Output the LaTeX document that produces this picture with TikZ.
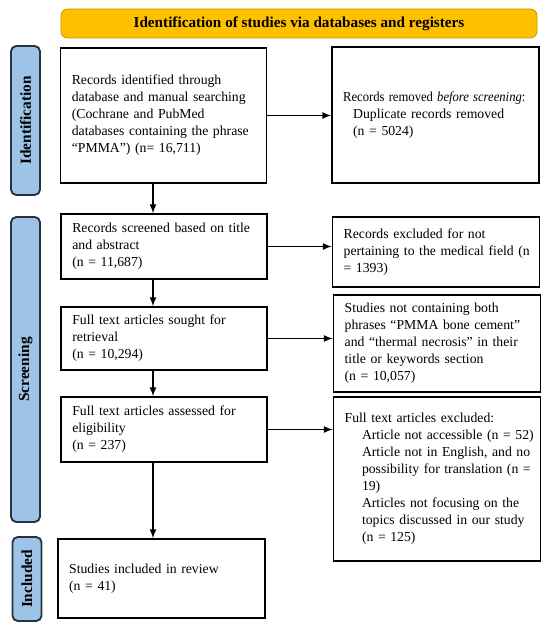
\documentclass[tikz,border=0pt]{standalone}
\usepackage{fontspec}
\setmainfont{Liberation Serif}
\usepackage{graphicx}
\usepackage{tikz}
\usetikzlibrary{positioning}
\definecolor{prgold}{RGB}{255, 192, 0}
\definecolor{prgoldline}{RGB}{196, 148, 0}
\definecolor{prblue}{RGB}{157, 195, 230}
\definecolor{prslate}{RGB}{40, 50, 62}

\begin{document}
\begin{tikzpicture}[x=0.75pt, y=-0.75pt, >=latex,
  every node/.style={font=\fontsize{10.3}{12.75}\selectfont},
  leftbox/.style={draw, line width=1.1pt, text width=137.5pt, inner xsep=8.5pt, align=left,
    execute at begin node={\rightskip=-30pt plus 1fil}},
  rightbox/.style={draw, line width=1.1pt, text width=138.5pt, inner xsep=8.4pt, align=left,
    execute at begin node={\rightskip=-30pt plus 1fil}},
  phase/.style={draw=prslate, line width=1.4pt, fill=prblue, rounded corners=4pt, rotate=90,
    minimum height=21.75pt, font=\fontsize{11.5}{14}\selectfont\bfseries},
  flow/.style={->, line width=1.3pt}]
\useasboundingbox (0,0) rectangle (550,630);

% Header
\node[draw=prgoldline, line width=0.6pt, fill=prgold, rounded corners=5pt, minimum width=357pt,
  minimum height=21.75pt, font=\fontsize{11.4}{13}\selectfont\bfseries] (header) at (299,23.5)
  {Identification of studies via databases and registers};

% Phase bars
\node[phase, minimum width=111.75pt] (ident) at (25.5,120.5) {Identification};
\node[phase, minimum width=228.75pt] (screen) at (25.5,369.5) {Screening};
\node[phase, minimum width=63pt] (incl) at (27,579) {Included};

% Left column
\node[leftbox, minimum height=101.25pt] (records) at (163.5,115.5)
  {Records identified through\\database and manual searching\\(Cochrane and PubMed\\databases containing the phrase\\``PMMA'') (n= 16,711)};
\node[leftbox, minimum height=48.75pt] (screened) at (164,246.5)
  {Records screened based on title\\and abstract\\(n = 11,687)};
\node[leftbox, minimum height=47.25pt] (sought) at (164,338.5)
  {Full text articles sought for\\retrieval\\(n = 10,294)};
\node[leftbox, minimum height=48.75pt] (assessed) at (164,429.5)
  {Full text articles assessed for\\eligibility\\(n = 237)};
\node[rightbox, minimum height=59.25pt] (included) at (161.5,578.5)
  {Studies included in review\\(n = 41)};

% Right column
\node[rightbox, minimum height=102pt] (removed) at (435.5,115)
  {\scalebox{0.92}[1]{Records removed \textit{before screening}:}\\\hspace*{7.5pt}Duplicate records removed\\\hspace*{7.5pt}(n = 5024)};
\node[rightbox, minimum height=52.5pt] (excluded) at (436,252)
  {Records excluded for not\\pertaining to the medical field (n\\{}= 1393)};
\node[rightbox, minimum height=72.75pt] (notfound) at (437,343.5)
  {Studies not containing both\\phrases ``PMMA bone cement''\\and ``thermal necrosis'' in their\\title or keywords section\\(n = 10,057)};
\node[rightbox, minimum height=123pt] (fulltext) at (437,479)
  {Full text articles excluded:\\
   \hspace*{13pt}Article not accessible (n = 52)\\
   \hspace*{13pt}Article not in English, and no\\
   \hspace*{13pt}possibility for translation (n =\\
   \hspace*{13pt}19)\\
   \hspace*{13pt}Articles not focusing on the\\
   \hspace*{13pt}topics discussed in our study\\
   \hspace*{13pt}(n = 125)};

% Arrows
\coordinate (down) at (153,0);
\draw[flow] (records.east) -- (records.east -| removed.west);
\draw[flow] (screened.east) -- (screened.east -| excluded.west);
\draw[flow] (sought.east) -- (sought.east -| notfound.west);
\draw[flow] (assessed.east) -- (assessed.east -| fulltext.west);
\draw[flow] (records.south -| down) -- (screened.north -| down);
\draw[flow] (screened.south -| down) -- (sought.north -| down);
\draw[flow] (sought.south -| down) -- (assessed.north -| down);
\draw[flow] (assessed.south -| down) -- (included.north -| down);
\end{tikzpicture}
\end{document}
